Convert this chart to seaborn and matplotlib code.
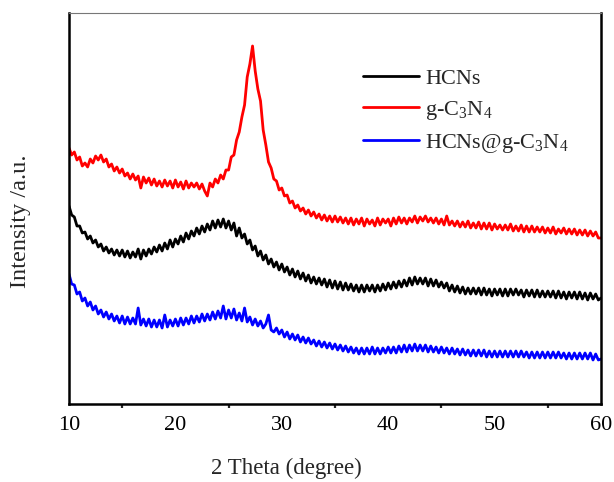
import numpy as np
import pandas as pd
import matplotlib
matplotlib.use("Agg")
import matplotlib.pyplot as plt
import seaborn as sns

# XRD patterns, sampled every 0.25 degree from 10 to 60 (one row = one degree)
two_theta = np.arange(40 * 5 + 1) * 0.25 + 10.0

hcns = [
    198, 189, 187, 178,  178, 171, 172, 165,  168, 161, 164, 157,  160, 153, 157, 151,
    155, 149, 154, 148,  154, 147, 153, 146,  152, 147, 155, 145,  154, 148, 155, 150,
    157, 152, 159, 153,  161, 155, 164, 157,  165, 160, 168, 162,  171, 165, 173, 168,
    176, 170, 178, 172,  180, 174, 183, 176,  184, 177, 185, 176,  183, 174, 181, 168,
    176, 166, 170, 160,  164, 154, 158, 148,  153, 144, 149, 140,  145, 137, 142, 134,
    140, 132, 137, 129,  135, 127, 133, 125,  131, 123, 129, 121,  127, 120, 126, 119,
    125, 117, 124, 116,  123, 115, 122, 114,  121, 114, 120, 113,  119, 112, 119, 112,
    119, 113, 119, 112,  119, 113, 120, 114,  121, 115, 122, 116,  123, 117, 124, 118,
    126, 119, 127, 120,  126, 120, 126, 118,  125, 118, 124, 117,  122, 116, 121, 113,
    119, 112, 118, 111,  117, 110, 116, 110,  116, 110, 116, 109,  116, 109, 115, 108,
    115, 109, 115, 108,  115, 108, 115, 109,  115, 109, 114, 107,  114, 108, 114, 107,
    114, 107, 113, 107,  113, 107, 113, 106,  113, 106, 112, 105,  112, 106, 112, 105,
    112, 105, 111, 104,  111, 105, 110, 104,
    106,
]

g_c3n4 = [
    256, 249, 252, 244,  247, 238, 241, 237,  245, 241, 248, 244,  249, 242, 245, 237,
    240, 233, 237, 231,  235, 228, 231, 225,  230, 224, 228, 216,  227, 221, 226, 219,
    225, 218, 223, 217,  224, 218, 223, 216,  224, 217, 222, 215,  223, 216, 221, 217,
    221, 215, 220, 213,  208, 221, 217, 225,  221, 229, 225, 234,  234, 247, 249, 264,
    272, 287, 299, 327,  340, 358, 333, 315,  303, 274, 259, 242,  236, 225, 223, 214,
    216, 208, 209, 201,  203, 196, 199, 193,  196, 190, 194, 188,  192, 186, 190, 184,
    189, 183, 188, 182,  188, 182, 187, 181,  186, 180, 186, 179,  185, 180, 186, 178,
    185, 180, 184, 178,  186, 179, 185, 181,  185, 178, 186, 180,  187, 181, 186, 180,
    186, 182, 188, 181,  187, 183, 188, 182,  186, 181, 186, 180,  185, 179, 188, 179,
    183, 178, 183, 177,  182, 177, 183, 176,  181, 176, 182, 175,  181, 175, 181, 174,
    180, 175, 179, 174,  179, 174, 180, 173,  178, 173, 179, 172,  178, 172, 178, 172,
    177, 172, 177, 171,  176, 171, 177, 170,  175, 171, 176, 170,  175, 170, 175, 169,
    174, 169, 174, 168,  173, 168, 172, 166,
    166,
]

hcns_g_c3n4 = [
    130, 120, 119, 110,  112, 103, 106, 98,   102, 94, 98, 90,    94, 87, 92, 85,
    90, 83, 88, 81,      88, 80, 87, 80,      86, 80, 96, 79,     85, 78, 85, 77,
    84, 77, 84, 76,      89, 77, 84, 78,      85, 78, 86, 79,     86, 80, 88, 81,
    88, 82, 90, 83,      90, 84, 92, 85,      93, 86, 98, 85,     94, 86, 95, 84,
    91, 83, 96, 82,      87, 79, 85, 78,      83, 76, 80, 89,     74, 72, 76, 70,
    74, 67, 72, 65,      70, 64, 69, 62,      67, 61, 66, 60,     64, 58, 63, 57,
    62, 56, 61, 55,      60, 54, 59, 53,      58, 52, 57, 51,     56, 50, 56, 50,
    56, 50, 57, 50,      56, 50, 56, 51,      57, 51, 57, 51,     58, 52, 59, 52,
    59, 53, 60, 53,      59, 53, 59, 52,      58, 52, 57, 51,     57, 51, 56, 50,
    56, 50, 55, 49,      55, 49, 54, 48,      54, 48, 54, 48,     54, 47, 53, 47,
    53, 47, 53, 47,      53, 47, 53, 47,      53, 47, 53, 47,     52, 46, 52, 46,
    52, 46, 52, 46,      52, 46, 52, 46,      52, 46, 51, 45,     51, 45, 51, 45,
    51, 45, 51, 45,      51, 44, 50, 44,
    45,
]

samples = ["HCNs", "g-C$_3$N$_4$", "HCNs@g-C$_3$N$_4$"]
colors = ["#000000", "#ff0000", "#0000ff"]
x_ticks = [10, 20, 30, 40, 50, 60]

df = pd.concat(
    [
        pd.DataFrame({"two_theta": two_theta, "intensity": vals, "sample": name})
        for name, vals in zip(samples, [hcns, g_c3n4, hcns_g_c3n4])
    ],
    ignore_index=True,
)

sns.set_style("white")
plt.rcParams["font.family"] = ["Liberation Serif", "DejaVu Serif"]
plt.rcParams["mathtext.fontset"] = "custom"
plt.rcParams["mathtext.rm"] = "Liberation Serif"
plt.rcParams["mathtext.it"] = "Liberation Serif:italic"

fig = plt.figure(figsize=(6.14, 4.82), dpi=100)
ax = fig.add_axes([69 / 614, 78 / 482, 532 / 614, 391 / 482])

sns.lineplot(
    data=df, x="two_theta", y="intensity", hue="sample",
    hue_order=samples, palette=colors, estimator=None, sort=False,
    linewidth=2.0, ax=ax,
)

ax.set_xlim(10, 60)
ax.set_ylim(0, 391)
ax.set_xticks(x_ticks)
ax.set_xticks(np.arange(15, 60, 10), minor=True)
ax.set_yticks([])
ax.tick_params(axis="x", which="major", direction="out", length=6, width=1.6,
               labelsize=16, pad=3, colors="black")
ax.tick_params(axis="x", which="minor", direction="out", length=3, width=1.6,
               bottom=True)

for side in ["left", "bottom", "right"]:
    ax.spines[side].set_color("black")
    ax.spines[side].set_linewidth(1.8)
ax.spines["top"].set_color("#777777")
ax.spines["top"].set_linewidth(0.8)

ax.set_xlabel("2 Theta (degree)", fontsize=16.5)
ax.xaxis.set_label_coords(0.408, -0.138)
ax.set_ylabel("Intensity /a.u.", fontsize=17.5)
ax.yaxis.set_label_coords(-0.072, 0.468)

leg = ax.legend(
    loc="upper left", bbox_to_anchor=(0.553, 0.858), frameon=False,
    fontsize=16, handlelength=2.5, handletextpad=0.3, labelspacing=0.45,
    borderaxespad=0, borderpad=0,
)
for line in leg.get_lines():
    line.set_linewidth(2.0)

fig.savefig("out.png", dpi=100)
